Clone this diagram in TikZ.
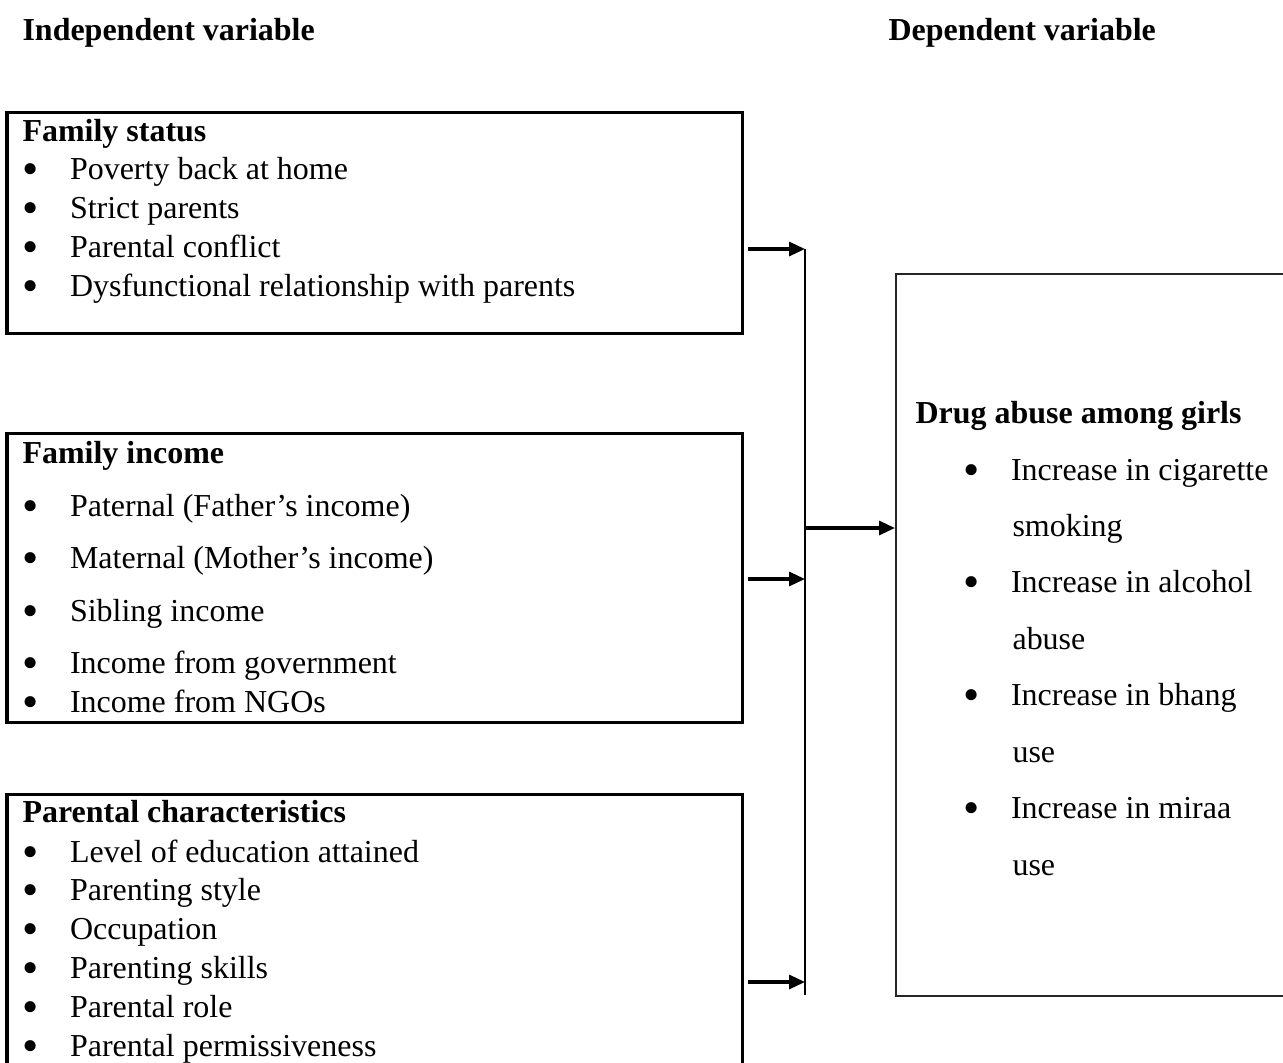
\documentclass[tikz,border=0pt]{standalone}
\usepackage{fontspec}
\setmainfont{Liberation Serif}
\usetikzlibrary{arrows.meta}
\newcommand{\bul}[1]{\makebox[17.3pt][l]{\smash{\raisebox{-1.9pt}{\scalebox{1.45}{\textbullet}}}}#1}
\tikzset{
  txt/.style={anchor=base west, inner sep=0pt, font=\fontsize{11.65}{14}\selectfont},
  head/.style={txt, font=\fontsize{11.65}{14}\selectfont\bfseries},
  varbox/.style={draw, rectangle, line width=1.1pt, anchor=north west, inner sep=0pt},
  arr/.style={line width=1.1pt, -{Triangle[length=5.8pt,width=5.1pt]}}
}
\begin{document}
\begin{tikzpicture}[x=0.3643pt, y=-0.3643pt]
\useasboundingbox (0,0) rectangle (1283,1063);

\node[head] (indep) at (22,40) {Independent variable};
\node[head] (dep) at (888,40) {Dependent variable};

% family status
\node[varbox, minimum width=267.9pt, minimum height=80.5pt] (famstat) at (5.5,111) {};
\node[head] (fstitle) at (22,141) {Family status};
\node[txt] (fs1) at (22,179) {\bul{Poverty back at home}};
\node[txt] (fs2) at (22,218) {\bul{Strict parents}};
\node[txt] (fs3) at (22,257) {\bul{Parental conflict}};
\node[txt] (fs4) at (22,296) {\bul{Dysfunctional relationship with parents}};

% family income
\node[varbox, minimum width=267.9pt, minimum height=105.3pt] (faminc) at (5.5,432) {};
\node[head] (fititle) at (22,463) {Family income};
\node[txt] (fi1) at (22,516) {\bul{Paternal (Father’s income)}};
\node[txt] (fi2) at (22,568) {\bul{Maternal (Mother’s income)}};
\node[txt] (fi3) at (22,621) {\bul{Sibling income}};
\node[txt] (fi4) at (22,673) {\bul{Income from government}};
\node[txt] (fi5) at (22,712) {\bul{Income from NGOs}};

% parental characteristics
\node[varbox, minimum width=267.9pt, minimum height=102.7pt] (parchar) at (5.5,793) {};
\node[head] (pctitle) at (22,822) {Parental characteristics};
\node[txt] (pc1) at (22,862) {\bul{Level of education attained}};
\node[txt] (pc2) at (22,900) {\bul{Parenting style}};
\node[txt] (pc3) at (22,939) {\bul{Occupation}};
\node[txt] (pc4) at (22,978) {\bul{Parenting skills}};
\node[txt] (pc5) at (22,1017) {\bul{Parental role}};
\node[txt] (pc6) at (22,1056) {\bul{Parental permissiveness}};

% drug abuse
\node[varbox, line width=0.7pt, draw=black!85, minimum width=147.5pt, minimum height=263pt] (drug) at (895,273) {};
\node[head] (dgtitle) at (915,423) {Drug abuse among girls};
\node[txt] (dg1) at (963,480) {\bul{Increase in cigarette}};
\node[txt] (dg2) at (1012,536) {smoking};
\node[txt] (dg3) at (963,592) {\bul{Increase in alcohol}};
\node[txt] (dg4) at (1012,649) {abuse};
\node[txt] (dg5) at (963,705) {\bul{Increase in bhang}};
\node[txt] (dg6) at (1012,762) {use};
\node[txt] (dg7) at (963,818) {\bul{Increase in miraa}};
\node[txt] (dg8) at (1012,875) {use};

\coordinate (bustop) at (805,249);
\coordinate (busin) at (805,579);
\coordinate (buslow) at (805,982);
\coordinate (busbot) at (805,995);
\coordinate (busout) at (805,528);
\draw[line width=1pt] (bustop) -- (busbot);
\draw[arr, shorten <=1.5pt] (famstat.east |- bustop) -- (bustop);
\draw[arr, shorten <=1.5pt] (faminc.east |- busin) -- (busin);
\draw[arr, shorten <=1.5pt] (parchar.east |- buslow) -- (buslow);
\draw[arr] (busout) -- (busout -| drug.west);
\end{tikzpicture}
\end{document}
